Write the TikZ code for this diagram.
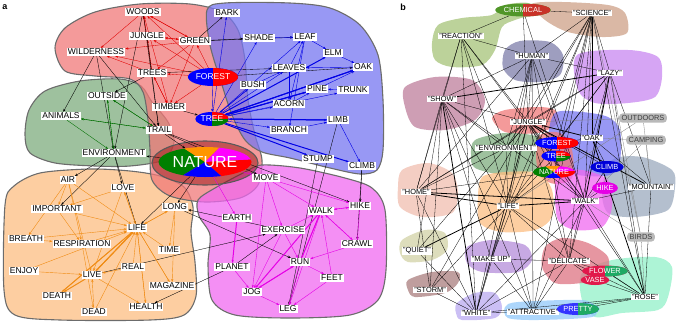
\documentclass[tikz,border=0pt]{standalone}
\usepackage{fontspec}
\setmainfont{Liberation Sans}
\usepackage{tikz}
\usetikzlibrary{arrows.meta,shapes.geometric}

\definecolor{redblob}{RGB}{240,120,120}
\definecolor{greenblob}{RGB}{125,172,125}
\definecolor{blueblob}{RGB}{118,118,240}
\definecolor{orangeblob}{RGB}{253,190,130}
\definecolor{magblob}{RGB}{240,105,240}
\definecolor{pgreen}{RGB}{0,128,0}
\definecolor{porange}{RGB}{255,150,0}
\definecolor{pmagenta}{RGB}{255,0,255}
\definecolor{pred}{RGB}{255,0,0}
\definecolor{pblue}{RGB}{0,0,255}
\definecolor{linkred}{RGB}{225,0,0}
\definecolor{linkgreen}{RGB}{0,110,0}
\definecolor{linkblue}{RGB}{0,0,230}
\definecolor{linkorange}{RGB}{240,140,20}
\definecolor{linkmag}{RGB}{230,0,230}
% panel b patches
\definecolor{olive}{RGB}{165,195,120}
\definecolor{tan}{RGB}{205,160,135}
\definecolor{slate}{RGB}{125,125,170}
\definecolor{lilac}{RGB}{200,135,240}
\definecolor{mauve}{RGB}{190,125,155}
\definecolor{steel}{RGB}{155,170,190}
\definecolor{peach}{RGB}{240,190,175}
\definecolor{khaki}{RGB}{210,210,165}
\definecolor{plum}{RGB}{180,140,218}
\definecolor{rosy}{RGB}{222,115,130}
\definecolor{cocoa}{RGB}{170,125,125}
\definecolor{mint}{RGB}{145,240,200}
\definecolor{lavender}{RGB}{185,170,240}
\definecolor{sky}{RGB}{145,200,250}
\definecolor{chemgreen}{RGB}{80,150,40}
\definecolor{chemred}{RGB}{200,50,40}
\definecolor{flowred}{RGB}{225,25,75}
\definecolor{flowgreen}{RGB}{30,170,100}

\pgfdeclarelayer{blobs}
\pgfdeclarelayer{links}
\pgfsetlayers{blobs,links,main}

\begin{document}
\begin{tikzpicture}[
    x=1pt, y=-1pt,
    >={Stealth[length=3pt,width=2.2pt]},
    word/.style={fill=white, inner xsep=1pt, inner ysep=0.9pt, font=\fontsize{8.5}{9}\selectfont},
    qword/.style={fill=white, inner xsep=1pt, inner ysep=0.7pt, font=\fontsize{7.4}{8}\selectfont},
    tag/.style={fill=gray!55, rounded corners=3.5pt, inner xsep=2.5pt, inner ysep=2pt, text=black!75, font=\fontsize{7.4}{8}\selectfont},
    blob/.style={draw=gray!85!black, line width=1.1pt, fill=#1, fill opacity=0.75},
    patch/.style={fill=#1, fill opacity=0.75},
    duo/.style 2 args={ellipse, inner sep=0.5pt, text=white, fill=#1,
      path picture={\fill[#2] (path picture bounding box.north) rectangle (path picture bounding box.south east);}},
    trio/.style={ellipse, inner sep=0.5pt, text=white, fill=pblue,
      path picture={
        \fill[pred] (path picture bounding box.center) rectangle (path picture bounding box.north east);
        \fill[pgreen] (path picture bounding box.center) rectangle (path picture bounding box.south east);}},
    pie/.style={ellipse, inner sep=0pt, text=white,
      path picture={
        \fill[pgreen] (path picture bounding box.center) -- +(149:90) -- +(181:90) -- +(213:90) -- cycle;
        \fill[porange] (path picture bounding box.center) -- +(213:90) -- +(264:90) -- +(315:90) -- cycle;
        \fill[pmagenta] (path picture bounding box.center) -- +(315:90) -- +(336:90) -- +(357:90) -- cycle;
        \fill[pred] (path picture bounding box.center) -- +(357:90) -- +(379:90) -- +(401:90) -- cycle;
        \fill[pblue] (path picture bounding box.center) -- +(41:90) -- +(95:90) -- +(149:90) -- cycle;}},
    redlink/.style={linkred, line width=0.35pt, ->},
    blacklink/.style={black, line width=0.35pt, ->},
    greenlink/.style={linkgreen, line width=0.35pt, ->},
    bluelink/.style={linkblue, line width=0.4pt, ->},
    orangelink/.style={linkorange, line width=0.4pt, ->},
    maglink/.style={linkmag, line width=0.4pt, ->},
    bline/.style={black, line width=0.3pt},
    bthick/.style={black, line width=0.8pt},
    bgray/.style={gray, line width=0.3pt}
  ]
  \useasboundingbox (0,0) rectangle (676,322);

  % ---------- panel a: groups
  \begin{pgfonlayer}{blobs}
    \draw[blob=greenblob] plot[smooth cycle] coordinates {(25,135) (29,110) (45,91) (80,81) (120,79) (141,86) (152,102) (168,122) (174,142) (163,160) (130,166) (95,166) (55,163) (30,153)};
    \draw[blob=orangeblob] plot[smooth cycle] coordinates {(5,205) (14,186) (40,173) (90,169) (130,171) (160,176) (184,187) (193,207) (191,232) (195,262) (196,296) (184,315) (150,320) (60,320) (15,315) (4,290)};
    \draw[blob=redblob] plot[smooth cycle] coordinates {(55,48) (65,28) (95,12) (140,4) (190,4) (222,12) (238,30) (245,60) (248,100) (255,135) (262,160) (258,185) (240,198) (205,202) (170,196) (152,180) (150,150) (148,120) (143,92) (130,79) (95,76) (65,71)};
    \draw[blob=blueblob] plot[smooth cycle] coordinates {(207,10) (225,3) (290,3) (330,8) (360,25) (378,55) (383,100) (383,150) (377,170) (360,174) (330,168) (290,158) (262,152) (245,140) (232,115) (222,85) (210,45)};
    \draw[blob=magblob] plot[smooth cycle] coordinates {(198,200) (215,188) (245,172) (262,165) (300,168) (345,178) (372,188) (385,210) (386,270) (378,300) (350,315) (290,318) (235,315) (212,300) (208,265) (210,235) (199,216)};
    \draw[gray!70!black, line width=1.1pt, fill=red!55!black, fill opacity=0.45] (205,163) ellipse [x radius=53pt, y radius=22pt];
  \end{pgfonlayer}

  % ---------- panel a: words
  \node[font=\bfseries\fontsize{9}{9}\selectfont] (labela) at (5,7) {a};
  \node[word] (woods)     at (143,12)  {WOODS};
  \node[word] (jungle)    at (147,36)  {JUNGLE};
  \node[word] (green)     at (195,41)  {GREEN};
  \node[word] (wild)      at (96,52)   {WILDERNESS};
  \node[word] (trees)     at (152,73)  {TREES};
  \node[word] (outside)   at (107,96)  {OUTSIDE};
  \node[word] (timber)    at (169,107) {TIMBER};
  \node[word] (animals)   at (61,116)  {ANIMALS};
  \node[word] (trail)     at (159,130) {TRAIL};
  \node[word] (env)       at (114,153) {ENVIRONMENT};
  \node[word] (bark)      at (227,13)  {BARK};
  \node[word] (shade)     at (259,38)  {SHADE};
  \node[word] (leaf)      at (305,37)  {LEAF};
  \node[word] (elm)       at (333,53)  {ELM};
  \node[word] (oak)       at (363,67)  {OAK};
  \node[word] (leaves)    at (289,68)  {LEAVES};
  \node[duo={pblue}{pred}, minimum width=42pt, minimum height=18pt, font=\fontsize{8.5}{9}\selectfont] (forest) at (213,77) {FOREST};
  \node[word] (bush)      at (253,85)  {BUSH};
  \node[word] (pine)      at (317,89)  {PINE};
  \node[word] (trunk)     at (353,90)  {TRUNK};
  \node[word] (acorn)     at (289,104) {ACORN};
  \node[trio, minimum width=31pt, minimum height=14pt, font=\fontsize{8.5}{9}\selectfont] (tree) at (212,119) {TREE};
  \node[word] (limb)      at (338,120) {LIMB};
  \node[word] (branch)    at (289,130) {BRANCH};
  \node[word] (stump)     at (318,159) {STUMP};
  \node[word] (climb)     at (362,166) {CLIMB};
  \node[pie, minimum width=93pt, minimum height=30pt, font=\fontsize{16}{16}\selectfont] (nature) at (205,162) {NATURE};
  \node[word] (air)       at (68,180)  {AIR};
  \node[word] (love)      at (123,188) {LOVE};
  \node[word] (important) at (57,209)  {IMPORTANT};
  \node[word] (long)      at (175,207) {LONG};
  \node[word] (life)      at (137,228) {LIFE};
  \node[word] (breath)    at (26,239)  {BREATH};
  \node[word] (resp)      at (82,244)  {RESPIRATION};
  \node[word] (time)      at (169,250) {TIME};
  \node[word] (enjoy)     at (24,271)  {ENJOY};
  \node[word] (real)      at (133,267) {REAL};
  \node[word] (live)      at (92,275)  {LIVE};
  \node[word] (magazine)  at (172,286) {MAGAZINE};
  \node[word] (death)     at (57,296)  {DEATH};
  \node[word] (health)    at (146,307) {HEALTH};
  \node[word] (dead)      at (94,312)  {DEAD};
  \node[word] (move)      at (266,178) {MOVE};
  \node[word] (walk)      at (321,211) {WALK};
  \node[word] (hike)      at (360,206) {HIKE};
  \node[word] (earth)     at (237,218) {EARTH};
  \node[word] (exercise)  at (283,230) {EXERCISE};
  \node[word] (crawl)     at (357,244) {CRAWL};
  \node[word] (run)       at (300,262) {RUN};
  \node[word] (planet)    at (232,267) {PLANET};
  \node[word] (feet)      at (332,278) {FEET};
  \node[word] (jog)       at (252,292) {JOG};
  \node[word] (leg)       at (288,309) {LEG};

  % ---------- panel a: associations
  \begin{pgfonlayer}{links}
    \foreach \src/\dst in {jungle/woods, green/woods, trees/woods, forest/woods, timber/woods, woods/wild, forest/wild,
        green/wild, trees/wild, forest/jungle, green/jungle, trees/jungle, forest/trees, green/trees, forest/timber,
        trees/timber, green/timber, forest/green, woods/green, jungle/green, timber/trees}
      \draw[redlink] (\src) -- (\dst);
    \foreach \src/\dst in {wild/animals, wild/trail, wild/env, woods/trail, woods/env, jungle/trail, trees/outside,
        trees/leaves, green/leaf, green/shade, green/bark, forest/oak, trail/nature, nature/env, env/air, env/important,
        env/love, env/life, nature/life, nature/long, long/run, exercise/long, planet/exercise, planet/health,
        live/exercise, trail/hike, trail/move, stump/leg, limb/leg, climb/crawl, climb/hike, timber/tree}
      \draw[blacklink] (\src) -- (\dst);
    \foreach \src/\dst in {outside/trail, animals/trail, trail/outside, trail/animals, outside/env, animals/env, env/outside}
      \draw[greenlink] (\src) -- (\dst);
    \foreach \src/\dst in {tree/bark, tree/shade, tree/leaf, tree/leaves, tree/bush, tree/trunk, tree/acorn, tree/branch,
        forest/tree, bush/tree, leaf/elm, elm/oak, shade/leaf, leaves/leaf, leaf/acorn, leaf/branch, pine/oak,
        trunk/pine, acorn/pine, branch/limb, limb/climb, bush/leaves, leaves/acorn, oak/leaves}
      \draw[bluelink] (\src) -- (\dst);
    \foreach \src/\dst in {tree/oak, tree/pine, tree/elm, tree/limb, tree/climb, tree/stump, oak/tree, pine/tree, limb/tree}
      \draw[bluelink, line width=1pt] (\src) -- (\dst);
    \foreach \src/\dst in {love/life, air/life, important/life, breath/life, resp/life, enjoy/life, death/life, dead/life,
        real/life, time/life, health/life, magazine/life, long/life, life/health, life/magazine, air/breath, air/important,
        air/resp, air/live, important/resp, breath/resp, enjoy/live, real/live, love/live, dead/live, live/health,
        long/time, long/magazine, love/important, resp/dead, life/long, life/love}
      \draw[orangelink] (\src) -- (\dst);
    \foreach \src/\dst in {live/life, life/live, live/death, life/death}
      \draw[orangelink, line width=1pt] (\src) -- (\dst);
    \foreach \src/\dst in {move/walk, move/hike, walk/hike, hike/walk, walk/crawl, crawl/walk, run/walk, walk/leg,
        jog/run, exercise/run, exercise/jog, feet/walk, feet/leg, run/leg, crawl/run, move/exercise, nature/earth,
        nature/move, planet/jog, jog/leg, exercise/walk, hike/crawl, run/feet, move/jog}
      \draw[maglink] (\src) -- (\dst);
    \foreach \src/\dst in {run/jog, walk/run, earth/planet, walk/jog}
      \draw[maglink, line width=1pt] (\src) -- (\dst);
  \end{pgfonlayer}

  % ---------- panel b: groups
  \begin{pgfonlayer}{blobs}
    \fill[patch=olive] plot[smooth cycle] coordinates {(432,43) (438,25) (462,18) (492,15) (505,5) (528,3) (535,13) (515,20) (502,27) (495,50) (482,65) (452,67) (435,60)};
    \fill[patch=tan] plot[smooth cycle] coordinates {(532,4) (562,2) (608,5) (625,13) (627,33) (602,37) (568,32) (545,20)};
    \fill[patch=slate] plot[smooth cycle] coordinates {(505,50) (520,41) (550,42) (563,55) (560,75) (540,82) (515,80) (503,68)};
    \fill[patch=lilac] plot[smooth cycle] coordinates {(577,55) (628,50) (658,57) (662,77) (655,97) (628,103) (595,103) (578,90)};
    \fill[patch=mauve] plot[smooth cycle] coordinates {(405,87) (435,77) (472,80) (485,100) (475,120) (445,130) (415,127) (405,107)};
    \fill[patch=steel] plot[smooth cycle] coordinates {(612,160) (642,157) (672,170) (675,187) (668,210) (635,217) (608,213) (602,190)};
    \fill[patch=redblob] plot[smooth cycle] coordinates {(492,118) (505,110) (538,107) (555,110) (558,123) (538,133) (505,132)};
    \fill[patch=blueblob] plot[smooth cycle] coordinates {(555,113) (582,112) (608,117) (620,130) (620,160) (610,175) (578,175) (555,165) (548,140)};
    \fill[patch=greenblob] plot[smooth cycle] coordinates {(475,140) (505,133) (538,137) (545,155) (535,170) (505,175) (475,168) (471,155)};
    \fill[patch=redblob] plot[smooth cycle] coordinates {(540,135) (560,133) (572,150) (572,178) (555,184) (540,176) (536,155)};
    \fill[patch=peach] plot[smooth cycle] coordinates {(402,170) (428,163) (452,173) (458,193) (452,213) (422,217) (400,207) (398,187)};
    \fill[patch=orangeblob] plot[smooth cycle] coordinates {(482,177) (505,172) (538,173) (552,190) (552,217) (535,230) (502,232) (480,223) (478,197)};
    \fill[patch=magblob] plot[smooth cycle] coordinates {(558,173) (582,170) (608,180) (612,207) (602,227) (575,230) (558,220) (555,193)};
    \fill[patch=khaki] plot[smooth cycle] coordinates {(402,240) (425,230) (445,233) (447,250) (432,260) (408,262) (400,253)};
    \fill[patch=plum] plot[smooth cycle] coordinates {(467,247) (492,240) (525,245) (532,260) (518,272) (482,272) (467,263)};
    \fill[patch=mint] plot[smooth cycle] coordinates {(582,273) (612,260) (655,257) (672,267) (668,297) (658,310) (622,313) (595,317) (582,300)};
    \fill[patch=rosy] plot[smooth cycle] coordinates {(545,247) (562,238) (588,243) (608,257) (605,277) (582,283) (555,283) (542,267)};
    \fill[patch=cocoa] plot[smooth cycle] coordinates {(408,280) (432,272) (458,272) (458,283) (445,293) (415,297) (408,290)};
    \fill[patch=lavender] plot[smooth cycle] coordinates {(457,303) (475,293) (495,293) (502,307) (495,318) (462,320) (456,313)};
    \fill[patch=sky] plot[smooth cycle] coordinates {(505,307) (518,302) (582,300) (595,307) (592,317) (538,320) (508,318)};
  \end{pgfonlayer}

  % ---------- panel b: words
  \node[font=\bfseries\fontsize{9}{9}\selectfont] (labelb) at (403,7) {b};
  \node[duo={chemgreen}{chemred}, minimum width=44pt, minimum height=13pt, font=\fontsize{7.4}{8}\selectfont] (bchem) at (523,10) {CHEMICAL};
  \node[qword] (bsci)      at (592,13)  {"SCIENCE"};
  \node[qword] (breact)    at (461,36)  {"REACTION"};
  \node[qword] (bhuman)    at (532,56)  {"HUMAN"};
  \node[qword] (blazy)     at (610,73)  {"LAZY"};
  \node[qword] (bshow)     at (442,99)  {"SHOW"};
  \node[qword] (bjungle)   at (528,122) {"JUNGLE"};
  \node[tag]   (boutdoors) at (643,118) {OUTDOORS};
  \node[tag]   (bcamping)  at (646,140) {CAMPING};
  \node[qword] (boak)      at (592,138) {"OAK"};
  \node[qword] (benv)      at (506,148) {"ENVIRONMENT"};
  \node[duo={pblue}{pred}, minimum width=32pt, minimum height=12pt, font=\fontsize{7.4}{8}\selectfont] (bforest) at (557,143) {FOREST};
  \node[trio, minimum width=23pt, minimum height=11pt, font=\fontsize{7.4}{8}\selectfont] (btree) at (556,156) {TREE};
  \node[pie, minimum width=35pt, minimum height=12pt, font=\fontsize{7.4}{8}\selectfont] (bnature) at (554,172) {NATURE};
  \node[ellipse, fill=pblue!85!black, text=white, inner sep=0.5pt, minimum width=30pt, minimum height=12pt, font=\fontsize{7.4}{8}\selectfont] (bclimb) at (607,167) {CLIMB};
  \node[qword] (bhome)     at (416,192) {"HOME"};
  \node[ellipse, fill=pmagenta!90!black, text=white, inner sep=0.5pt, minimum width=25pt, minimum height=12pt, font=\fontsize{7.4}{8}\selectfont] (bhike) at (605,188) {HIKE};
  \node[qword] (bmountain) at (651,187) {"MOUNTAIN"};
  \node[qword] (blife)     at (508,206) {"LIFE"};
  \node[qword] (bwalk)     at (585,201) {"WALK"};
  \node[tag]   (bbirds)    at (641,237) {BIRDS};
  \node[qword] (bquiet)    at (417,251) {"QUIET"};
  \node[qword] (bmakeup)   at (491,259) {"MAKE UP"};
  \node[qword] (bdelicate) at (569,261) {"DELICATE"};
  \node[duo={flowred}{flowgreen}, minimum width=34pt, minimum height=11pt, font=\fontsize{7.4}{8}\selectfont] (bflower) at (605,271) {FLOWER};
  \node[ellipse, fill=flowred, text=white, inner sep=0.5pt, minimum width=24pt, minimum height=10pt, font=\fontsize{7.4}{8}\selectfont] (bvase) at (595,280) {VASE};
  \node[qword] (bstorm)    at (430,290) {"STORM"};
  \node[qword] (brose)     at (645,297) {"ROSE"};
  \node[qword] (bwhite)    at (476,313) {"WHITE"};
  \node[qword] (battr)     at (533,312) {"ATTRACTIVE"};
  \node[duo={pblue!80}{flowgreen}, minimum width=34pt, minimum height=12pt, font=\fontsize{7.4}{8}\selectfont] (bpretty) at (578,309) {PRETTY};

  % ---------- panel b: links
  \begin{pgfonlayer}{links}
    \foreach \src/\dst in {bchem/breact, bchem/bsci, bchem/bjungle, bchem/bwalk,
        breact/bshow, breact/bhuman, breact/bjungle, breact/blife, breact/bwalk, breact/benv, breact/bhome, breact/bwhite,
        bsci/bhuman, bsci/blazy, bsci/bjungle, bsci/boak, bsci/blife, bsci/bwalk, bsci/bdelicate, bsci/brose,
        bsci/bforest, bsci/bnature, bsci/benv, bsci/bmakeup, bsci/battr,
        bhuman/bshow, bhuman/blazy, bhuman/bjungle, bhuman/blife, bhuman/bwalk, bhuman/bwhite, bhuman/bhome,
        bhuman/benv, bhuman/bdelicate, bhuman/battr,
        blazy/bjungle, blazy/blife, blazy/boak, blazy/bmountain, blazy/brose, blazy/bhome, blazy/bforest, blazy/bdelicate,
        bshow/blife, bshow/bwalk, bshow/bhome, bshow/battr, bshow/bstorm, bshow/bquiet, bshow/benv,
        bshow/bjungle, bshow/bmakeup,
        bjungle/btree, bjungle/bnature, bjungle/benv, bjungle/blife, bjungle/bwalk, bjungle/bhome, bjungle/bclimb,
        bjungle/bwhite, bjungle/bdelicate, bjungle/brose, bjungle/bquiet, bjungle/bmakeup, bjungle/bstorm,
        bhome/benv, bhome/bnature, bhome/bwhite, bhome/bstorm,
        blife/bstorm, blife/bwhite, blife/battr, blife/bdelicate, blife/bmakeup, blife/brose, blife/benv,
        blife/bnature, blife/btree,
        bwalk/brose, bwalk/bdelicate, bwalk/bwhite, bwalk/battr, bwalk/bhike, bwalk/bmountain, bwalk/bclimb, bwalk/bnature,
        brose/bflower, brose/bvase, brose/bpretty, brose/bdelicate, brose/bwhite, brose/battr, brose/bmountain,
        bwhite/battr, bwhite/bstorm, bwhite/bquiet, bwhite/bmakeup,
        bmakeup/battr, bmakeup/bdelicate,
        bdelicate/bflower, bdelicate/bvase, bdelicate/battr, bdelicate/bwhite,
        boak/bmountain, boak/bclimb, boak/bforest}
      \draw[bline] (\src) -- (\dst);
    \foreach \src/\dst in {bjungle/boak, bjungle/bmountain, bhome/bwalk, bhome/blife, blife/bwalk, blife/bquiet,
        boak/brose, bshow/blazy, blazy/bwalk, bjungle/bforest, bshow/bwhite}
      \draw[bthick] (\src) -- (\dst);
    \foreach \src/\dst in {boutdoors/bjungle, boutdoors/bmountain, boutdoors/blife, bcamping/boak, bcamping/bmountain,
        bcamping/bwalk, bbirds/bwalk, bbirds/brose, bbirds/blazy, bbirds/bsci}
      \draw[bgray] (\src) -- (\dst);
  \end{pgfonlayer}
\end{tikzpicture}
\end{document}
